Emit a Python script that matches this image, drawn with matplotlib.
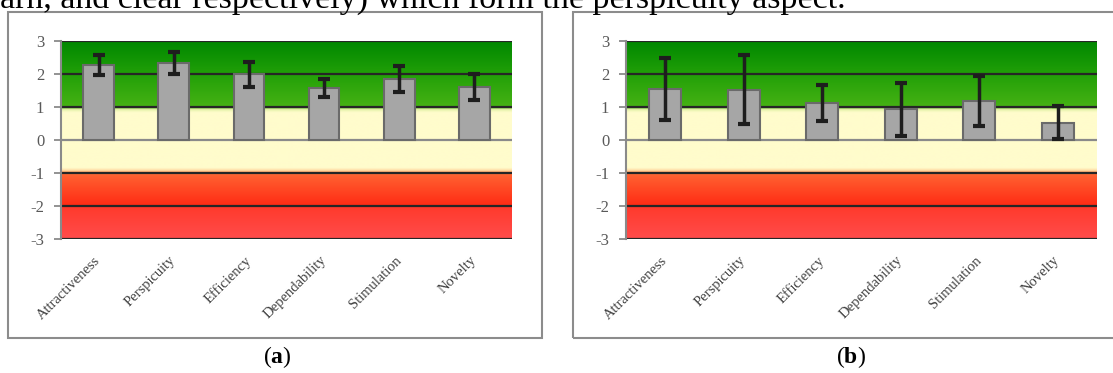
import numpy as np
import matplotlib
matplotlib.use("Agg")
import matplotlib.pyplot as plt
from matplotlib.colors import LinearSegmentedColormap
from matplotlib.patches import Rectangle

# UEQ scales
escalas = ["Attractiveness", "Perspicuity", "Efficiency",
           "Dependability", "Stimulation", "Novelty"]

# (a)
medias_a = [2.28, 2.33, 1.99, 1.58, 1.85, 1.61]
error_a = [0.31, 0.34, 0.37, 0.27, 0.40, 0.40]

# (b)
medias_b = [1.54, 1.53, 1.13, 0.93, 1.18, 0.53]
error_b = [0.94, 1.05, 0.55, 0.80, 0.76, 0.50]

texto_superior = "arn, and clear respectively) which form the perspicuity aspect."

plt.rcParams['font.family'] = ['Liberation Serif', 'DejaVu Serif']
plt.rcParams['mathtext.fontset'] = 'custom'
plt.rcParams['mathtext.rm'] = 'Liberation Serif'
plt.rcParams['mathtext.bf'] = 'Liberation Serif:bold'
plt.rcParams['axes.unicode_minus'] = False

W, H = 1113, 373
fig = plt.figure(figsize=(W / 100, H / 100), dpi=100)

# fondo degradado: verde (bueno), amarillo (neutro), rojo (malo)
paradas = [
    (0.000, "#ff4c4c"),   # -3
    (0.160, "#ff3a2c"),   # -2 (debajo)
    (0.166, "#ff2a14"),   # -2 (encima)
    (0.320, "#ff6030"),
    (0.333, "#ff7a3a"),   # -1
    (0.345, "#ffd8a0"),
    (0.360, "#fffccc"),
    (0.640, "#fffccc"),
    (0.655, "#e4f2a8"),
    (0.667, "#46b214"),   # 1
    (0.833, "#22a008"),   # 2
    (1.000, "#008800"),   # 3
]
cmap_fondo = LinearSegmentedColormap.from_list("ueq", paradas, N=512)
gradiente = np.linspace(0, 1, 600).reshape(-1, 1)


def px(x0, y0, x1, y1):
    # pixeles (origen arriba-izquierda) -> fraccion de figura
    return [x0 / W, 1 - y1 / H, (x1 - x0) / W, (y1 - y0) / H]


def graf_ueq(ax, medias, errores):
    n = len(escalas)
    x = np.arange(n)
    ax.imshow(gradiente, cmap=cmap_fondo, origin="lower", aspect="auto",
              extent=[-0.5, n - 0.5, -3, 3], zorder=0)
    for y in [-3, -2, -1, 1, 2, 3]:
        ax.axhline(y, color="#262626", lw=1.6, zorder=1)
    ax.axhline(0, color="#8a8a8a", lw=1.6, zorder=1)

    ax.bar(x, medias, width=0.41, color="#a6a6a6", edgecolor="#6a6a6a",
           linewidth=1.5, zorder=2)
    ax.errorbar(x, medias, yerr=errores, fmt="none", ecolor="#1e1e1e",
                elinewidth=2.5, capsize=4.5, capthick=3, zorder=3)

    ax.set_xlim(-0.5, n - 0.5)
    ax.set_ylim(-3, 3)
    ax.set_yticks(np.arange(-3, 4))
    ax.set_xticks(x)
    ax.set_xticklabels(escalas, rotation=45, ha="right", va="center",
                       rotation_mode="anchor", fontsize=10.5,
                       color="#404040")
    ax.tick_params(axis="x", length=0, pad=14)
    ax.tick_params(axis="y", length=5, width=1.3, color="#8a8a8a",
                   labelsize=12, labelcolor="#595959", pad=7)
    for lado in ["top", "right", "bottom"]:
        ax.spines[lado].set_visible(False)
    ax.spines["left"].set_color("#8a8a8a")
    ax.spines["left"].set_linewidth(1.5)
    ax.spines["left"].set_zorder(4)


ax1 = fig.add_axes(px(61, 41, 512, 239))
graf_ueq(ax1, medias_a, error_a)

ax2 = fig.add_axes(px(626, 41, 1097, 239))
graf_ueq(ax2, medias_b, error_b)

# marcos de cada grafico
for x0, x1 in [(8, 542), (573, 1129)]:
    fig.patches.append(Rectangle((x0 / W, 1 - 338 / H), (x1 - x0) / W,
                                 (338 - 12) / H, transform=fig.transFigure,
                                 fill=False, edgecolor="#8c8c8c", lw=1.5,
                                 zorder=0))

fig.text(277 / W, 1 - 357 / H, r"$(\mathbf{a})$", ha="center", va="center",
         fontsize=17, color="black")
fig.text(851 / W, 1 - 357 / H, r"$(\mathbf{b})$", ha="center", va="center",
         fontsize=17, color="black")

# linea de texto del documento, cortada arriba
fig.text(0, 1 - 8 / H, texto_superior, ha="left", va="baseline",
         fontsize=24.5, color="black")

fig.savefig("out.png", dpi=100)
